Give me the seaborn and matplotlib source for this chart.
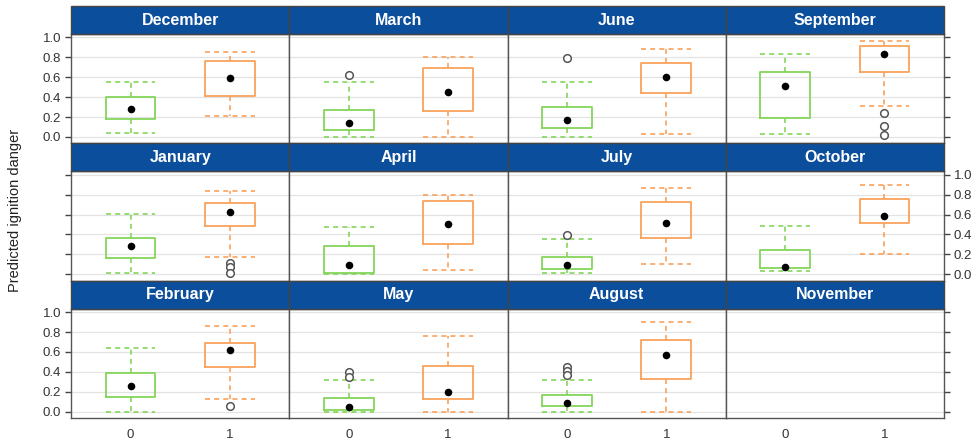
import matplotlib
matplotlib.use('Agg')
import matplotlib.pyplot as plt
from matplotlib.patches import Rectangle
import pandas as pd
import seaborn as sns
import numpy as np

# panel order as drawn (row by row), November has no data
panel_order = ['December', 'March', 'June', 'September',
               'January', 'April', 'July', 'October',
               'February', 'May', 'August', 'November']

months = ['December', 'January', 'February', 'March', 'April', 'May',
          'June', 'July', 'August', 'September', 'October']

# group 0 (green)
g0_lo = [0.04, 0.01, 0.00, 0.00, 0.00, 0.00, 0.00, 0.01, 0.00, 0.03, 0.03]
g0_q1 = [0.18, 0.16, 0.15, 0.07, 0.01, 0.02, 0.09, 0.05, 0.06, 0.19, 0.06]
g0_med = [0.28, 0.28, 0.26, 0.14, 0.09, 0.05, 0.17, 0.09, 0.09, 0.51, 0.07]
g0_q3 = [0.40, 0.36, 0.39, 0.27, 0.28, 0.14, 0.30, 0.17, 0.17, 0.65, 0.24]
g0_hi = [0.55, 0.61, 0.64, 0.55, 0.47, 0.32, 0.55, 0.35, 0.32, 0.83, 0.48]
g0_out = [[], [], [], [0.62], [], [0.40, 0.35], [0.79], [0.39],
          [0.45, 0.41, 0.37], [], []]

# group 1 (orange)
g1_lo = [0.21, 0.17, 0.13, 0.00, 0.04, 0.00, 0.03, 0.10, 0.00, 0.31, 0.20]
g1_q1 = [0.41, 0.49, 0.45, 0.26, 0.30, 0.13, 0.44, 0.36, 0.33, 0.65, 0.52]
g1_med = [0.59, 0.63, 0.62, 0.45, 0.51, 0.20, 0.60, 0.52, 0.57, 0.83, 0.59]
g1_q3 = [0.76, 0.72, 0.69, 0.69, 0.74, 0.46, 0.74, 0.73, 0.72, 0.91, 0.76]
g1_hi = [0.85, 0.84, 0.86, 0.80, 0.80, 0.76, 0.88, 0.87, 0.90, 0.96, 0.90]
g1_out = [[], [0.11, 0.07, 0.01], [0.06], [], [], [], [], [], [],
          [0.24, 0.11, 0.02], []]

colors = {0: '#84d55a', 1: '#f9a25c'}
strip_blue = '#0b4e9c'

rows = []
for i, m in enumerate(months):
    rows.append(dict(month=m, group=0, lo=g0_lo[i], q1=g0_q1[i], med=g0_med[i],
                     q3=g0_q3[i], hi=g0_hi[i], fliers=g0_out[i]))
    rows.append(dict(month=m, group=1, lo=g1_lo[i], q1=g1_q1[i], med=g1_med[i],
                     q3=g1_q3[i], hi=g1_hi[i], fliers=g1_out[i]))
df = pd.DataFrame(rows)


def draw_boxes(data, **kws):
    ax = plt.gca()
    for _, r in data.iterrows():
        col = colors[r['group']]
        stats = [dict(whislo=r['lo'], q1=r['q1'], med=r['med'], q3=r['q3'],
                      whishi=r['hi'], fliers=r['fliers'])]
        dash = dict(color=col, lw=1.2, linestyle=(0, (3, 2.5)))
        ax.bxp(stats, positions=[r['group']], widths=0.5, capwidths=0.5,
               boxprops=dict(color=col, lw=1.3),
               whiskerprops=dash, capprops=dash,
               medianprops=dict(visible=False),
               flierprops=dict(marker='o', markerfacecolor='white',
                               markeredgecolor='#555555', markersize=5.5,
                               markeredgewidth=1.1),
               manage_ticks=False)
    sns.scatterplot(data=data, x='group', y='med', color='black', s=30,
                    linewidth=0, zorder=5, legend=False, ax=ax)


sns.set_theme(style='white')
plt.rcParams['font.family'] = ['Liberation Sans', 'DejaVu Sans']

g = sns.FacetGrid(df, col='month', col_wrap=4, col_order=panel_order,
                  sharex=True, sharey=True, height=1.5, aspect=1.5)
g.map_dataframe(draw_boxes)
g.set_titles('')
g.set_axis_labels('', '')

fig = g.figure
fig.set_size_inches(9.8, 4.42)
strip_h = 28 / 109.5
fig.subplots_adjust(left=71 / 980, right=944 / 980, top=1 - 34 / 442,
                    bottom=1 - 418 / 442, wspace=0, hspace=strip_h)

for idx, ax in enumerate(g.axes.flat):
    r, c = divmod(idx, 4)
    ax.set_xlim(-0.6, 1.6)
    ax.set_ylim(-0.065, 1.035)
    ax.set_yticks(np.arange(0, 1.01, 0.2))
    ax.set_yticklabels([f'{v:.1f}' for v in np.arange(0, 1.01, 0.2)])
    ax.set_xticks([0, 1])
    ax.set_xticklabels(['0', '1'])
    ax.set_xlabel('')
    ax.set_ylabel('')
    ax.grid(axis='y', color='#e3e3e3', lw=0.9)
    ax.grid(axis='x', visible=False)
    ax.set_axisbelow(True)
    for s in ax.spines.values():
        s.set_visible(True)
        s.set_color('#555555')
        s.set_linewidth(1.0)

    ax.tick_params(axis='y', which='both', direction='out', length=4,
                   width=1, color='#444444', labelcolor='#333333',
                   labelsize=9.5, pad=3,
                   left=(c == 0), labelleft=(c == 0 and r != 1),
                   right=(c == 3), labelright=(c == 3 and r == 1))
    ax.tick_params(axis='x', length=0, pad=8, labelsize=9.5,
                   labelcolor='#333333', top=False,
                   bottom=(r == 2), labelbottom=(r == 2))

    ax.add_patch(Rectangle((0, 1), 1, strip_h, transform=ax.transAxes,
                           clip_on=False, facecolor=strip_blue,
                           edgecolor='#444444', lw=1.0, zorder=3))
    ax.text(0.5, 1 + strip_h / 2, panel_order[idx], transform=ax.transAxes,
            ha='center', va='center', color='white', fontsize=11.5,
            fontweight='bold', zorder=4)

fig.text(0.015, 0.525, 'Predicted ignition danger', rotation=90,
         ha='center', va='center', fontsize=10.5, color='#222222')

fig.savefig('out.png', dpi=100)
